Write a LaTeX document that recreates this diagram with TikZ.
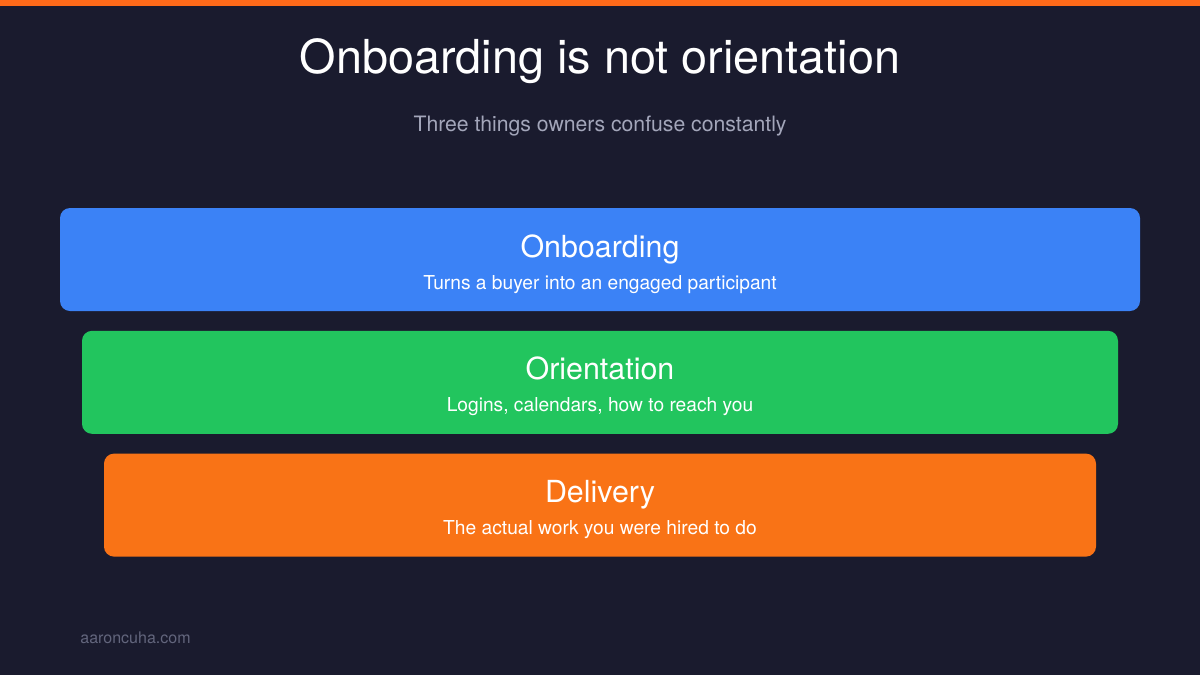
\documentclass[tikz,border=0pt]{standalone}
\usepackage{fontspec}
\setmainfont{TeX Gyre Heros}
\usetikzlibrary{positioning}
\definecolor{bgdark}{HTML}{1A1B2E}
\definecolor{topbar}{HTML}{FF6A1A}
\definecolor{subgray}{HTML}{A3A6BA}
\definecolor{footgray}{HTML}{62657C}
\definecolor{onbblue}{HTML}{3B82F6}
\definecolor{oriengreen}{HTML}{22C55E}
\definecolor{delivorange}{HTML}{F97316}

\begin{document}
\begin{tikzpicture}[x=0.5pt, y=-0.5pt, node distance=9.5pt]
                \tikzstyle{layer} = [rectangle, rounded corners=5pt,
                minimum height=51.5pt, inner sep=0pt]
                \tikzstyle{heading} = [anchor=base, text=white, font=\fontsize{15.2}{18}\selectfont]
                \tikzstyle{caption} = [anchor=base, text=white, font=\fontsize{9.6}{11}\selectfont]

                \fill [bgdark] (0,0) rectangle (1200,675);
                \fill [topbar] (0,0) rectangle (1200,6);

                \node [anchor=base, text=white, font=\fontsize{23.4}{28}\selectfont] (title) at (600,73) {Onboarding is not orientation};
                \node [anchor=base, text=subgray, font=\fontsize{10.6}{13}\selectfont] (subtitle) at (600,131) {Three things owners confuse constantly};

                \node [layer, fill=onbblue, minimum width=540pt] (onboarding) at (600,259.5) {};
                \node [layer, fill=oriengreen, minimum width=518pt, below=of onboarding] (orientation) {};
                \node [layer, fill=delivorange, minimum width=496pt, below=of orientation] (delivery) {};

                \node [heading] (onbhead) at ([yshift=1.25pt]onboarding.center) {Onboarding};
                \node [caption] (onbtext) at ([yshift=-14.75pt]onboarding.center) {Turns a buyer into an engaged participant};
                \node [heading] (orihead) at ([yshift=1.25pt]orientation.center) {Orientation};
                \node [caption] (oritext) at ([yshift=-14.75pt]orientation.center) {Logins, calendars, how to reach you};
                \node [heading] (delhead) at ([yshift=1.25pt]delivery.center) {Delivery};
                \node [caption] (deltext) at ([yshift=-14.75pt]delivery.center) {The actual work you were hired to do};

                \node [anchor=base west, inner sep=0pt, text=footgray, font=\fontsize{8}{10}\selectfont] (site) at (80,643) {aaroncuha.com};
            \end{tikzpicture}
\end{document}
